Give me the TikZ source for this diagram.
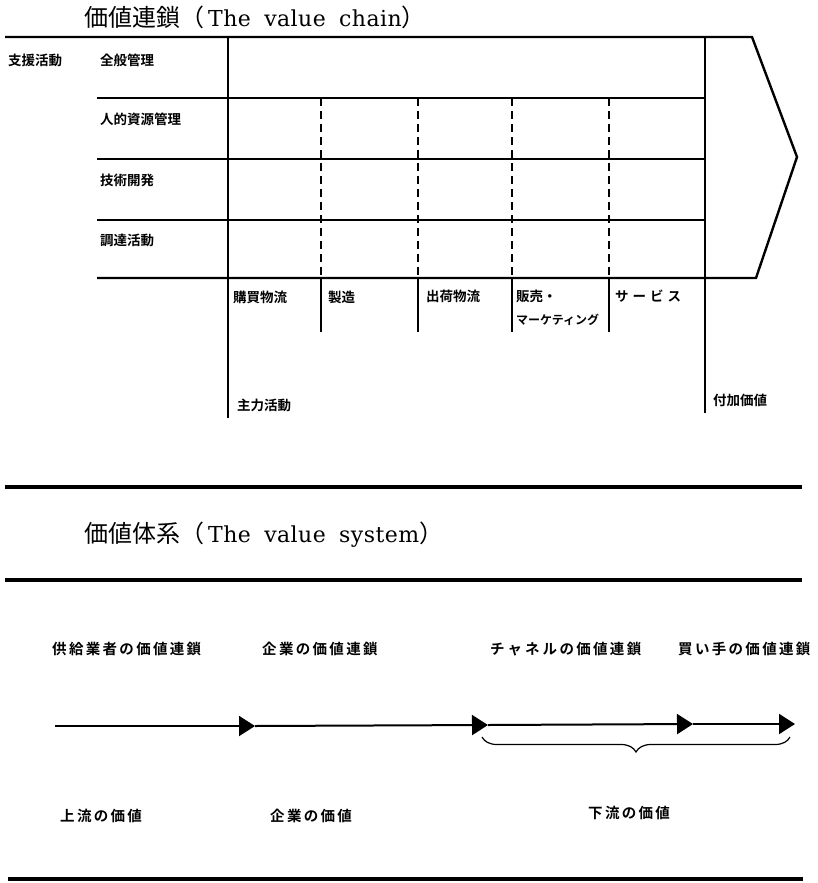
\documentclass[tikz,border=0pt]{standalone}
\usepackage{fontspec}
\usetikzlibrary{arrows.meta,decorations.pathreplacing}
\newfontfamily\jp{Noto Sans CJK JP}
\newfontfamily\jpb{Noto Sans CJK JP Bold}
\newfontfamily\jpw{Noto Sans CJK JP Bold}[LetterSpace=16]
\newfontfamily\lat{DejaVu Serif}[WordSpace=1.8,LetterSpace=2]
\tikzset{
  lbl/.style={anchor=west, inner sep=0pt, font=\jpb\fontsize{13.5}{15}\selectfont},
  lblsmall/.style={anchor=west, inner sep=0pt, font=\jpb\fontsize{12}{13}\selectfont},
  lblw/.style={anchor=west, inner sep=0pt, font=\jpw\fontsize{14.5}{16}\selectfont},
  ttl/.style={anchor=west, inner sep=0pt, font=\fontsize{24}{28}\selectfont},
  rule/.style={line width=3.2pt},
  gridline/.style={line width=2.4pt},
  dashv/.style={line width=2.8pt, dash pattern=on 8pt off 5pt},
  solidv/.style={line width=2.8pt},
  flow/.style={line width=2pt, -{Triangle[length=16pt,width=20pt]}},
  bracedec/.style={line width=1.2pt, decorate, decoration={brace, mirror, amplitude=15pt, aspect=0.5}}
}
\begin{document}
\begin{tikzpicture}[x=1pt,y=-1pt]
\useasboundingbox (0,0) rectangle (818,883);

% ---------- value chain ----------
\node[ttl] (title1) at (84,17) {{\jp 価値連鎖（}\hspace{4pt}{\lat\fontsize{22}{26}\selectfont The value chain}{\jp ）}};

\coordinate (tl) at (5,37);
\coordinate (tr) at (752,37);
\coordinate (tip) at (797,157);
\coordinate (br) at (756,278);
\coordinate (bl) at (97,278);
\draw[gridline, line join=miter] (tl) -- (tr) -- (tip) -- (br) -- (bl);

\foreach \y/\n in {98/r1,159/r2,220/r3}{
  \coordinate (\n l) at (97,\y);
  \coordinate (\n r) at (705,\y);
  \draw[gridline] (\n l) -- (\n r);
}

\coordinate (v1t) at (228,37);  \coordinate (v1b) at (228,418);
\coordinate (v6t) at (705,37);  \coordinate (v6b) at (705,413);
\draw[solidv] (v1t) -- (v1b);
\draw[solidv] (v6t) -- (v6b);

\foreach \x/\n in {321/d1,418/d2,512/d3,609/d4}{
  \coordinate (\n t) at (\x,98);
  \coordinate (\n m) at (\x,278);
  \coordinate (\n b) at (\x,332);
  \draw[dashv] (\n t) -- (\n m);
  \draw[solidv] (\n m) -- (\n b);
}

\node[lbl] (shien) at (8,60) {支援活動};
\node[lbl] (zenpan) at (100,60) {全般管理};
\node[lbl] (jinteki) at (100,119) {人的資源管理};
\node[lbl] (gijutsu) at (100,180) {技術開発};
\node[lbl] (chotatsu) at (100,240) {調達活動};

\node[lbl] (kobai) at (233,297) {購買物流};
\node[lbl] (seizo) at (328,297) {製造};
\node[lbl] (shukka) at (426,296) {出荷物流};
\node[lbl] (hanbai) at (516,296) {販売・};
\node[lblsmall] (marketing) at (516,320) {マーケティング};
\node[lbl] (service) at (615,296) {サ\hspace{4pt}ー\hspace{4pt}ビ\hspace{4pt}ス};
\node[lbl] (shuryoku) at (237,405) {主力活動};
\node[lbl] (fuka) at (713,400) {付加価値};

% ---------- value system ----------
\coordinate (h1l) at (5,487);  \coordinate (h1r) at (802,487);
\coordinate (h2l) at (5,580);  \coordinate (h2r) at (802,580);
\coordinate (h3l) at (8,879);  \coordinate (h3r) at (803,879);
\draw[rule] (h1l) -- (h1r);
\draw[rule] (h2l) -- (h2r);
\draw[rule] (h3l) -- (h3r);

\node[ttl] (title2) at (84,535) {{\jp 価値体系（}\hspace{4pt}{\lat\fontsize{22}{26}\selectfont The value system}{\jp ）}};

\node[lblw] (supplier) at (52,649) {供給業者の価値連鎖};
\node[lblw] (firm) at (262,649) {企業の価値連鎖};
\node[lblw] (channel) at (490,649) {チ\hspace{3pt}ャ\hspace{3pt}ネ\hspace{3pt}ルの価値連鎖};
\node[lblw] (buyer) at (678,649) {買い手の価値連鎖};

\coordinate (a0) at (55,726);
\coordinate (a1) at (255,726);
\coordinate (a2) at (488,725);
\coordinate (a3) at (693,724);
\coordinate (a4) at (795,724);
\draw[flow] (a0) -- (a1);
\draw[flow] (a1) -- (a2);
\draw[flow] (a2) -- (a3);
\draw[flow] (a3) -- (a4);

\coordinate (brl) at (482,737);
\coordinate (brr) at (790,737);
\draw[bracedec] (brl) -- (brr);

\node[lblw] (upstream) at (60,816) {上流の価値};
\node[lblw] (firmval) at (270,816) {企業の価値};
\node[lblw] (downstream) at (588,813) {下流の価値};
\end{tikzpicture}
\end{document}
